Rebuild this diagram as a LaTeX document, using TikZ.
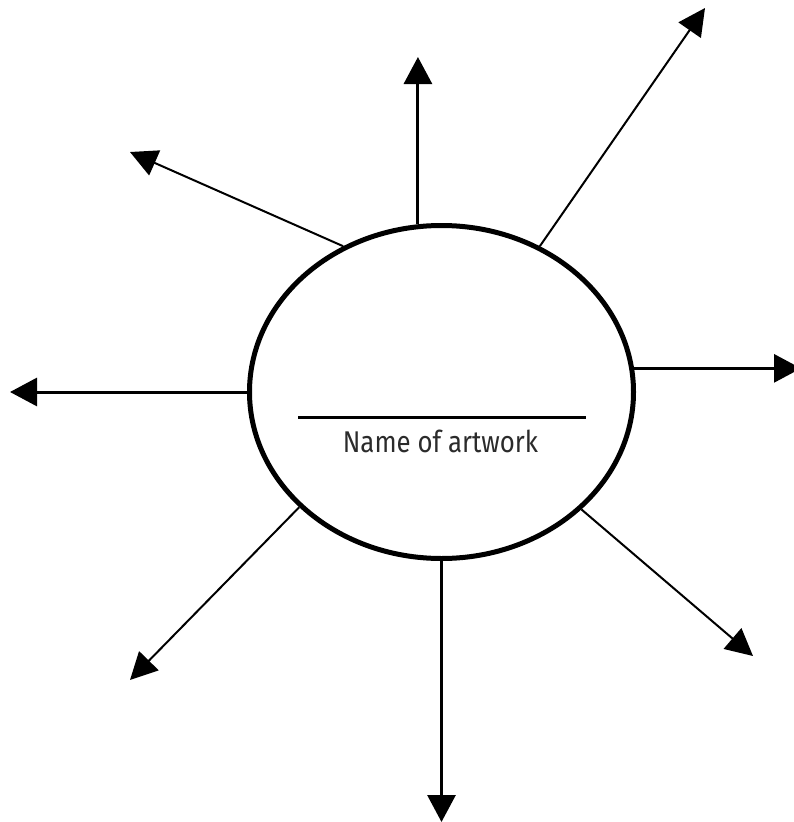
\documentclass[tikz,border=0pt]{standalone}
\usepackage{fontspec}
\setmainfont{Fira Sans}
\usetikzlibrary{shapes.geometric,arrows.meta}
\definecolor{txtgray}{HTML}{2B2B2B}
\tikzset{
  bubble/.style={draw=black, line width=5pt, ellipse, inner sep=0pt,
    minimum width=384pt, minimum height=333pt},
  thickarrow/.style={line width=3pt, -{Triangle[length=27pt,width=28pt]}},
  thinarrow/.style={line width=2pt, -{Triangle[length=27pt,width=27pt]}},
  label/.style={font=\fontsize{30pt}{33pt}\fontseries{l}\selectfont, text=txtgray, inner sep=0pt, anchor=base, xscale=0.86}
}
\begin{document}
\begin{tikzpicture}[x=1pt,y=-1pt]
\useasboundingbox (0,0) rectangle (794,822);
\node[bubble] (e) at (441.5,392) {};
% arrow tips
\coordinate (tU) at (417.5,57);
\coordinate (tD) at (441.5,822);
\coordinate (tL) at (10,392);
\coordinate (tR) at (801,368);
\coordinate (tUR) at (705,8);
\coordinate (tUL) at (130,152);
\coordinate (tLL) at (130,680);
\coordinate (tLR) at (753,656);
% connectors
\draw[thickarrow] (e.98.2) -- (e.98.2 |- tU);
\draw[thickarrow] (e.270) -- (tD);
\draw[thickarrow] (e.180) -- (tL);
\draw[thickarrow] (e.7) -- (e.7 -| tR);
\draw[thinarrow] (e.56.2) -- (tUR);
\draw[thinarrow] (e.124.5) -- (tUL);
\draw[thinarrow] (e.219.9) -- (tLL);
\draw[thinarrow] (e.320.1) -- (tLR);
% title line and label
\coordinate (l1) at (298,417);
\coordinate (l2) at (586,417);
\draw[line width=3pt] (l1) -- (l2);
\node[label] (name) at (440.5,452) {Name of artwork};
\end{tikzpicture}
\end{document}
